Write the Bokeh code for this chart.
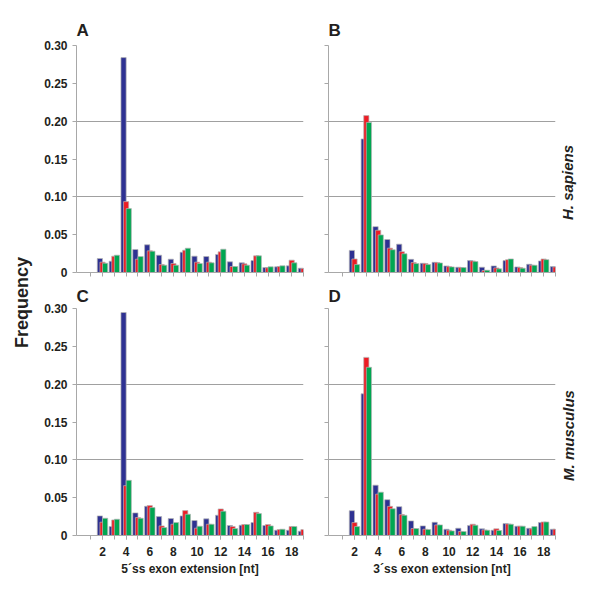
import math
from bokeh.plotting import figure
from bokeh.layouts import row, column
from bokeh.models import ColumnDataSource, FixedTicker, Label, NumeralTickFormatter, Range1d
from bokeh.transform import dodge
from bokeh.embed import file_html
from bokeh.resources import INLINE

# ---------------- data ----------------
categories = list(range(1, 20))
x_label_ticks = [2, 4, 6, 8, 10, 12, 14, 16, 18]

# Panel A: H. sapiens, 5'ss
a_blue  = [0, 0.0185, 0.0150, 0.2840, 0.0304, 0.0366, 0.0229, 0.0176, 0.0268, 0.0216, 0.0211, 0.0238, 0.0141, 0.0128, 0.0158, 0.0066, 0.0075, 0.0088, 0.0057]
a_red   = [0, 0.0137, 0.0216, 0.0937, 0.0176, 0.0286, 0.0106, 0.0119, 0.0295, 0.0137, 0.0137, 0.0273, 0.0079, 0.0114, 0.0220, 0.0062, 0.0079, 0.0163, 0.0053]
a_green = [0, 0.0123, 0.0229, 0.0845, 0.0211, 0.0282, 0.0097, 0.0097, 0.0321, 0.0119, 0.0128, 0.0308, 0.0079, 0.0097, 0.0220, 0.0075, 0.0088, 0.0128, 0.0050]

# Panel B: H. sapiens, 3'ss
b_blue  = [0, 0.0292, 0.1765, 0.0606, 0.0436, 0.0375, 0.0174, 0.0122, 0.0135, 0.0087, 0.0070, 0.0157, 0.0070, 0.0087, 0.0157, 0.0074, 0.0109, 0.0153, 0.0078]
b_red   = [0, 0.0179, 0.2074, 0.0558, 0.0322, 0.0275, 0.0131, 0.0118, 0.0131, 0.0078, 0.0065, 0.0153, 0.0026, 0.0061, 0.0170, 0.0065, 0.0096, 0.0179, 0.0074]
b_green = [0, 0.0105, 0.1983, 0.0497, 0.0301, 0.0248, 0.0118, 0.0105, 0.0126, 0.0074, 0.0065, 0.0144, 0.0030, 0.0048, 0.0179, 0.0057, 0.0096, 0.0170, 0.0070]

# Panel C: M. musculus, 5'ss
c_blue  = [0, 0.0259, 0.0119, 0.2947, 0.0299, 0.0386, 0.0250, 0.0224, 0.0259, 0.0198, 0.0220, 0.0268, 0.0132, 0.0136, 0.0171, 0.0132, 0.0070, 0.0070, 0.0057]
c_red   = [0, 0.0176, 0.0206, 0.0659, 0.0237, 0.0395, 0.0127, 0.0149, 0.0329, 0.0097, 0.0149, 0.0351, 0.0119, 0.0145, 0.0307, 0.0145, 0.0079, 0.0119, 0.0079]
c_green = [0, 0.0228, 0.0215, 0.0729, 0.0228, 0.0369, 0.0105, 0.0171, 0.0281, 0.0123, 0.0149, 0.0321, 0.0092, 0.0145, 0.0290, 0.0127, 0.0083, 0.0119, 0.0070]

# Panel D: M. musculus, 3'ss
d_blue  = [0, 0.0328, 0.1873, 0.0665, 0.0473, 0.0381, 0.0193, 0.0127, 0.0175, 0.0083, 0.0096, 0.0131, 0.0088, 0.0070, 0.0158, 0.0123, 0.0096, 0.0171, 0.0083]
d_red   = [0, 0.0171, 0.2354, 0.0547, 0.0385, 0.0276, 0.0092, 0.0083, 0.0140, 0.0070, 0.0053, 0.0149, 0.0074, 0.0088, 0.0153, 0.0123, 0.0088, 0.0179, 0.0083]
d_green = [0, 0.0118, 0.2223, 0.0573, 0.0354, 0.0267, 0.0092, 0.0079, 0.0140, 0.0061, 0.0053, 0.0136, 0.0070, 0.0066, 0.0149, 0.0123, 0.0118, 0.0179, 0.0080]

y_ticks = [0, 0.05, 0.1, 0.15, 0.2, 0.25, 0.3]
grid_ticks = [0.1, 0.2]

# ---------------- style ----------------
BLUE, RED, GREEN = "#2e3192", "#ed1c24", "#00a651"
EDGE = "#b5b5b5"
AXIS_GRAY = "#a8a8a8"
TEXT = "#231f20"
FONT = "Liberation Sans"
X_START, X_END = -0.2, 19.0
Y_START, Y_END = 0.0, 0.30


def make_panel(width, height, bl, br, bt, bb, blue, red, green,
               letter, letter_standoff, show_x_labels, show_y_labels, x_title=None):
    p = figure(width=width, height=height, output_backend="svg", toolbar_location=None,
               x_range=Range1d(X_START, X_END), y_range=Range1d(Y_START, Y_END),
               min_border_left=bl, min_border_right=br, min_border_top=bt, min_border_bottom=bb,
               background_fill_color="white", border_fill_color="white")
    p.outline_line_color = None
    src = ColumnDataSource(dict(x=categories, blue=blue, red=red, green=green))
    for field, off, col in (("blue", -0.22, BLUE), ("red", 0.0, RED), ("green", 0.22, GREEN)):
        p.vbar(x=dodge("x", off), top=field, bottom=0, width=0.44, source=src,
               fill_color=col, line_color=EDGE, line_width=0.7)

    p.xgrid.visible = False
    p.ygrid.ticker = FixedTicker(ticks=grid_ticks)
    p.ygrid.grid_line_color = "#a0a0a0"
    p.ygrid.grid_line_width = 1

    # panel letter
    p.title.text = letter
    p.title.align = "left"
    p.title.text_font = FONT
    p.title.text_font_style = "bold"
    p.title.text_font_size = "17px"
    p.title.text_color = TEXT
    p.title.standoff = letter_standoff

    xa = p.xaxis[0]
    xa.axis_line_color = AXIS_GRAY
    xa.major_tick_line_color = AXIS_GRAY
    xa.minor_tick_line_color = AXIS_GRAY
    xa.major_tick_out = 4
    xa.major_tick_in = 0
    xa.minor_tick_out = 4
    xa.minor_tick_in = 0
    if show_x_labels:
        xa.ticker = FixedTicker(ticks=x_label_ticks, minor_ticks=categories)
        xa.major_label_text_font = FONT
        xa.major_label_text_font_style = "bold"
        xa.major_label_text_font_size = "12px"
        xa.major_label_text_color = TEXT
        xa.major_label_standoff = 7
        xa.axis_label = x_title
        xa.axis_label_text_font = FONT
        xa.axis_label_text_font_style = "bold"
        xa.axis_label_text_font_size = "12px"
        xa.axis_label_text_color = TEXT
        xa.axis_label_standoff = 3
    else:
        xa.ticker = FixedTicker(ticks=[], minor_ticks=categories)

    ya = p.yaxis[0]
    ya.axis_line_color = AXIS_GRAY
    ya.major_tick_line_color = AXIS_GRAY
    ya.minor_tick_line_color = AXIS_GRAY
    ya.major_tick_out = 4
    ya.major_tick_in = 0
    ya.minor_tick_out = 4
    ya.minor_tick_in = 0
    if show_y_labels:
        ya.ticker = FixedTicker(ticks=y_ticks)
        ya.formatter = NumeralTickFormatter(format="0.00")
        ya.major_label_overrides = {0: "0"}
        ya.major_label_text_font = FONT
        ya.major_label_text_font_style = "bold"
        ya.major_label_text_font_size = "12px"
        ya.major_label_text_color = TEXT
        ya.major_label_standoff = 5
    else:
        ya.ticker = FixedTicker(ticks=[], minor_ticks=y_ticks)
    return p


def strip(width, height):
    s = figure(width=width, height=height, output_backend="svg", toolbar_location=None,
               x_range=Range1d(0, width), y_range=Range1d(0, height),
               min_border_left=0, min_border_right=0, min_border_top=0, min_border_bottom=0,
               background_fill_color="white", border_fill_color="white")
    s.axis.visible = False
    s.grid.visible = False
    s.outline_line_color = None
    return s


pa = make_panel(272, 282, 38, 7, 45, 10, a_blue, a_red, a_green, "A", 11, False, True)
pb = make_panel(246, 282, 18, 1, 45, 10, b_blue, b_red, b_green, "B", 11, False, False)
pc = make_panel(272, 308, 38, 7, 25, 55, c_blue, c_red, c_green, "C", 5, True, True,
                x_title="5\u00b4ss exon extension [nt]")
pd_ = make_panel(246, 308, 18, 1, 25, 55, d_blue, d_red, d_green, "D", 5, True, False,
                 x_title="3\u00b4ss exon extension [nt]")

# left strip: shared y-axis title
pl = strip(38, 590)
pl.add_layout(Label(x=21, y=288, text="Frequency", angle=math.pi / 2, text_font=FONT,
                    text_font_style="bold", text_font_size="18px", text_color=TEXT,
                    text_align="center", text_baseline="middle"))

# right strip: species names
pr = strip(34, 590)
pr.add_layout(Label(x=11, y=408, text="H. sapiens", angle=math.pi / 2, text_font=FONT,
                    text_font_style="bold italic", text_font_size="15px", text_color=TEXT,
                    text_align="center", text_baseline="middle"))
pr.add_layout(Label(x=12, y=155, text="M. musculus", angle=math.pi / 2, text_font=FONT,
                    text_font_style="bold italic", text_font_size="15px", text_color=TEXT,
                    text_align="center", text_baseline="middle"))

layout = row(pl, column(row(pa, pb), row(pc, pd_)), pr)

with open("out.html", "w") as f:
    f.write(file_html(layout, INLINE))
